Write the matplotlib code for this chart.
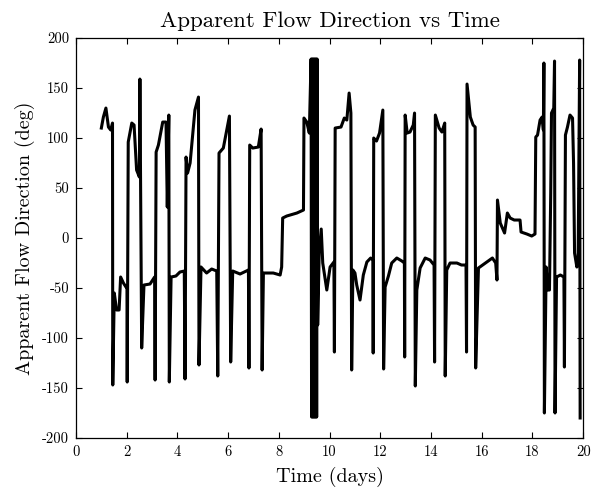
import matplotlib
matplotlib.use("Agg")
import matplotlib.pyplot as plt

# time (days) and apparent flow direction (deg)
t_days = [1.0, 1.08, 1.18, 1.28, 1.37, 1.44, 1.45, 1.51, 1.6, 1.7, 1.76, 1.87, 1.97, 2.01, 2.02,
          2.06, 2.2, 2.29, 2.39, 2.5, 2.52, 2.59, 2.68, 2.92, 3.1, 3.12, 3.16, 3.25, 3.42, 3.55,
          3.6, 3.66, 3.68, 3.75, 3.94, 4.1, 4.27, 4.3, 4.34, 4.4, 4.5, 4.69, 4.83, 4.85, 4.93,
          5.15, 5.35, 5.55, 5.59, 5.64, 5.81, 6.05, 6.1, 6.18, 6.47, 6.8, 6.82, 6.85, 6.97, 7.19,
          7.3, 7.34, 7.39, 7.78, 8.05, 8.11, 8.15, 8.31, 8.71, 8.97, 8.99, 9.1, 9.2,
          9.27, 9.29, 9.31, 9.33, 9.35, 9.37, 9.39, 9.41, 9.43, 9.45, 9.47, 9.49, 9.51,
          9.53, 9.59, 9.67, 9.73, 9.89, 10.02, 10.17, 10.19, 10.22, 10.45, 10.58, 10.68, 10.77,
          10.84, 10.87, 10.92, 11.0, 11.07, 11.2, 11.33, 11.47, 11.62, 11.71, 11.72, 11.74,
          11.85, 11.97, 12.1, 12.13, 12.19, 12.32, 12.45, 12.65, 12.85, 12.95, 12.96, 12.98,
          13.06, 13.17, 13.3, 13.35, 13.38, 13.44, 13.57, 13.77, 13.96, 14.12, 14.14, 14.17,
          14.32, 14.43, 14.54, 14.56, 14.62, 14.75, 15.02, 15.2, 15.38, 15.4, 15.42, 15.55,
          15.66, 15.74, 15.76, 15.87, 16.2, 16.42, 16.55, 16.6, 16.62, 16.73, 16.9, 17.01,
          17.12, 17.28, 17.51, 17.55, 17.78, 17.97, 18.1, 18.13, 18.2, 18.3, 18.38, 18.43,
          18.45, 18.47, 18.54, 18.6, 18.67, 18.72, 18.75, 18.84, 18.87, 18.89, 18.95, 19.1,
          19.24, 19.26, 19.3, 19.38, 19.48, 19.58, 19.62, 19.66, 19.75, 19.8, 19.86, 19.88]
flow_deg = [110, 121, 130, 111, 108, 115, -147, -55, -72, -72, -39, -45, -49, -48, -144,
            96, 115, 113, 68, 61, 159, -110, -47, -46, -39, -142, 86, 93, 116, 116,
            31, 123, -144, -39, -38, -34, -33, -141, 81, 65, 75, 128, 141, -127, -29,
            -35, -31, -33, -138, 85, 90, 122, -124, -33, -36, -32, -130, 93, 90, 91,
            109, -132, -35, -35, -37, -29, 20, 22, 25, 28, 120, 116, 105,
            179, -179, 179, -179, 179, -179, 179, -179, 179, -179, 179, -179, 179,
            -87, -15, 9, -25, -52, -29, -24, -114, 110, 111, 120, 118, 145,
            125, -132, -32, -35, -47, -62, -37, -24, -20, -22, -115, 100,
            97, 105, 128, -131, -49, -38, -25, -20, -23, -25, -119, 123,
            105, 106, 113, 125, -148, -52, -30, -20, -22, -27, -124, 123,
            110, 106, 115, -138, -32, -25, -25, -27, -27, -114, 154, 121,
            113, 111, -130, -30, -24, -20, -25, -42, 38, 15, 5, 25,
            20, 18, 18, 6, 4, 2, 4, 101, 103, 118, 121, 108,
            175, -175, -29, -52, -52, 45, 125, 130, 177, -175, -39, -37,
            -39, -129, 103, 111, 123, 120, 75, -15, -29, -25, 178, -180]

plt.rcParams['font.family'] = 'cmr10'
plt.rcParams['axes.unicode_minus'] = False
plt.rcParams['mathtext.fontset'] = 'cm'

fig = plt.figure(figsize=(5.96, 4.88), dpi=100)
ax = fig.add_axes([0.1275, 0.1025, 0.851, 0.8195])
ax.plot(t_days, flow_deg, color='black', lw=2.2)

ax.set_xlim(0, 20)
ax.set_ylim(-200, 200)
ax.set_xticks(range(0, 21, 2))
ax.set_yticks(range(-200, 201, 50))
ax.tick_params(direction='in', top=True, right=True, labelsize=10.5, length=4, width=0.8, pad=5)
for s in ax.spines.values():
    s.set_linewidth(0.9)

ax.set_title('Apparent Flow Direction vs Time', fontsize=16.5, pad=8)
ax.set_xlabel('Time (days)', fontsize=14.5, labelpad=6)
ax.set_ylabel('Apparent Flow Direction (deg)', fontsize=14.5, labelpad=5)

fig.savefig('out.png', dpi=100)
